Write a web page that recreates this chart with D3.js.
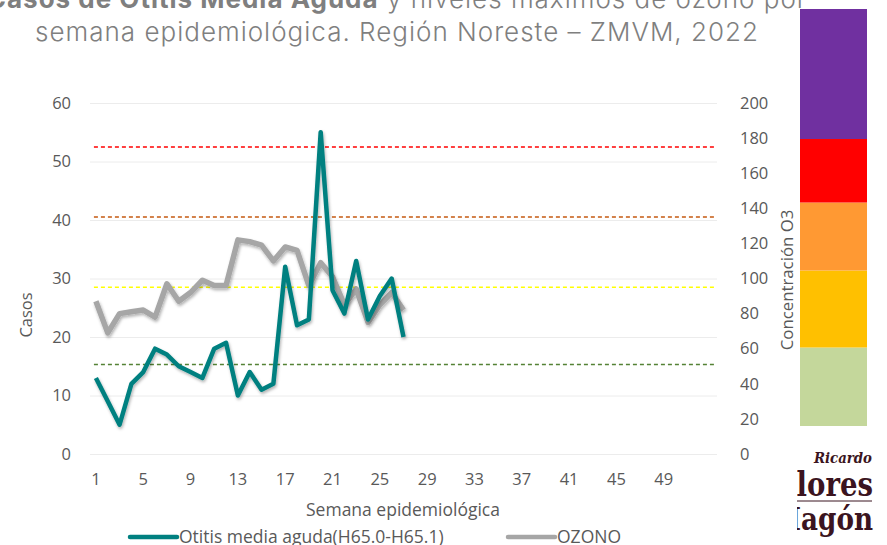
<!DOCTYPE html>
<html lang="es">
<head>
<meta charset="UTF-8">
<script src="https://d3js.org/d3.v7.min.js"></script>
<title>Otitis media aguda y ozono</title>
<style>
  body { margin: 0; background: #fff; }
  svg text { font-family: "Open Sans", sans-serif; fill: #595959; }
  .grid line { stroke: #ececec; }
  .grid .domain { stroke: none; }
</style>
</head>
<body>
<svg id="chart" width="887" height="545"></svg>
<script>
// semanas epidemiologicas (eje de categorias)
const semanas = d3.range(1, 54);
const semanaTicks = [1, 5, 9, 13, 17, 21, 25, 29, 33, 37, 41, 45, 49];

// casos de otitis media aguda, semanas 1-27
const otitis = [13, 9, 5, 12, 14, 18, 17, 15, 14, 13, 18, 19, 10, 14, 11, 12, 32, 22, 23, 55, 28, 24, 33, 23, 27, 30, 20];
// maximo de ozono (ppb), semanas 1-27
const ozono = [87, 69, 80, 81, 82, 78, 97, 87, 92, 99, 96, 96, 122, 121, 119, 110, 118, 116, 96, 109, 101, 85, 94, 75, 85, 92, 82];

const casosTicks = [0, 10, 20, 30, 40, 50, 60];
const o3Ticks = [0, 20, 40, 60, 80, 100, 120, 140, 160, 180, 200];

// limites de calidad del aire para ozono
const limites = [51, 95, 135, 175];
const limiteColores = ["#548235", "#FFFF00", "#C55A11", "#FF0000"];

// barra de colores (buena .. extremadamente mala)
const bandas = [0, 51, 95, 135, 175, 230];
const bandaColores = ["#C4D79B", "#FFC000", "#FF9933", "#FF0000", "#7030A0"];

const svg = d3.select("#chart");

const x = d3.scaleBand().domain(semanas).range([90, 717]);
const xc = d => x(d) + x.bandwidth() / 2;
const yL = d3.scaleLinear().domain([0, 60]).range([454, 103]);
const yR = d3.scaleLinear().domain([0, 200]).range([454, 103]);

// sombra suave de las lineas
const defs = svg.append("defs");
defs.append("filter").attr("id", "sombra")
  .attr("x", "-5%").attr("y", "-5%").attr("width", "110%").attr("height", "115%")
  .append("feDropShadow")
  .attr("dx", 1).attr("dy", 2).attr("stdDeviation", 1.5)
  .attr("flood-color", "#000").attr("flood-opacity", 0.3);
defs.append("clipPath").attr("id", "logoClip")
  .append("rect").attr("x", 797).attr("y", 440).attr("width", 90).attr("height", 105);

// titulo
const titulo = svg.append("text")
  .attr("x", 397).attr("y", 8)
  .attr("text-anchor", "middle")
  .style("font-family", "Inter, sans-serif")
  .style("font-size", "26px")
  .style("letter-spacing", "1px")
  .style("font-weight", 300)
  .style("fill", "#7f7f7f");
titulo.append("tspan").style("font-weight", 700).text("Casos de Otitis Media Aguda");
titulo.append("tspan").text(" y niveles máximos de ozono por");
svg.append("text")
  .attr("x", 397).attr("y", 41)
  .attr("text-anchor", "middle")
  .style("font-family", "Inter, sans-serif")
  .style("font-size", "26px")
  .style("letter-spacing", "1px")
  .style("font-weight", 300)
  .style("fill", "#7f7f7f")
  .text("semana epidemiológica. Región Noreste – ZMVM, 2022");

// rejilla
svg.append("g")
  .attr("class", "grid")
  .attr("transform", "translate(90,0)")
  .call(d3.axisLeft(yL).tickValues(casosTicks).tickSize(-627).tickFormat(""))
  .selectAll("line")
  .attr("stroke", d => d === 0 ? "#d9d9d9" : "#ececec");

// eje izquierdo
const ejeIzq = svg.append("g")
  .attr("transform", "translate(90,0)")
  .call(d3.axisLeft(yL).tickValues(casosTicks).tickSize(0).tickPadding(19));
ejeIzq.select(".domain").remove();
ejeIzq.selectAll("text").style("font-size", "16.5px").style("fill", "#595959");

// eje derecho
const ejeDer = svg.append("g")
  .attr("transform", "translate(717,0)")
  .call(d3.axisRight(yR).tickValues(o3Ticks).tickSize(0).tickPadding(23));
ejeDer.select(".domain").remove();
ejeDer.selectAll("text").style("font-size", "16.5px").style("fill", "#595959");

// eje inferior
const ejeX = svg.append("g")
  .attr("transform", "translate(0,454)")
  .call(d3.axisBottom(x).tickValues(semanaTicks).tickSize(0).tickPadding(19));
ejeX.select(".domain").remove();
ejeX.selectAll("text").style("font-size", "16.5px").style("fill", "#595959");

// titulos de ejes
svg.append("text")
  .attr("transform", "translate(32,315) rotate(-90)")
  .attr("text-anchor", "middle")
  .style("font-size", "16.5px")
  .text("Casos");
svg.append("text")
  .attr("transform", "translate(793,280) rotate(-90)")
  .attr("text-anchor", "middle")
  .style("font-size", "16.8px")
  .text("Concentración O3");
svg.append("text")
  .attr("x", 403).attr("y", 516)
  .attr("text-anchor", "middle")
  .style("font-size", "17.5px")
  .text("Semana epidemiológica");

// lineas de limite de ozono
svg.append("g").selectAll("line")
  .data(limites)
  .join("line")
  .attr("x1", xc(1) - 2).attr("x2", xc(53) + 3)
  .attr("y1", d => yR(d)).attr("y2", d => yR(d))
  .attr("stroke", (d, i) => limiteColores[i])
  .attr("stroke-width", 1.5)
  .attr("stroke-dasharray", "4,3");

// series
const lineaOzono = d3.line()
  .x((d, i) => xc(semanas[i]))
  .y(d => yR(d));
const lineaOtitis = d3.line()
  .x((d, i) => xc(semanas[i]))
  .y(d => yL(d));

svg.append("path")
  .datum(ozono)
  .attr("d", lineaOzono)
  .attr("fill", "none")
  .attr("stroke", "#a6a6a6")
  .attr("stroke-width", 5.5)
  .attr("stroke-linejoin", "round")
  .attr("filter", "url(#sombra)");

svg.append("path")
  .datum(otitis)
  .attr("d", lineaOtitis)
  .attr("fill", "none")
  .attr("stroke", "#008080")
  .attr("stroke-width", 4.5)
  .attr("stroke-linejoin", "round")
  .attr("filter", "url(#sombra)");

// leyenda
const leyenda = [
  { nombre: "Otitis media aguda(H65.0-H65.1)", color: "#008080", x: 130 },
  { nombre: "OZONO", color: "#a6a6a6", x: 508 }
];
const items = svg.append("g").selectAll("g")
  .data(leyenda)
  .join("g")
  .attr("transform", d => "translate(" + d.x + ",537)");
items.append("line")
  .attr("x1", 0).attr("x2", 47)
  .attr("stroke", d => d.color)
  .attr("stroke-width", 4.5)
  .attr("stroke-linecap", "round");
items.append("text")
  .attr("x", 49).attr("dy", "0.35em")
  .style("font-size", "17.5px")
  .text(d => d.nombre);

// barra de colores de calidad del aire
const yBarra = d3.scaleLinear().domain(bandas).range([426, 347.5, 270.5, 202.5, 139, 9]);
svg.append("g").selectAll("rect")
  .data(bandaColores)
  .join("rect")
  .attr("x", 800)
  .attr("width", 67)
  .attr("y", (d, i) => yBarra(bandas[i + 1]))
  .attr("height", (d, i) => yBarra(bandas[i]) - yBarra(bandas[i + 1]))
  .attr("fill", d => d);

// logo
const logo = svg.append("g").attr("clip-path", "url(#logoClip)");
logo.append("text")
  .attr("x", 814).attr("y", 463)
  .attr("textLength", 58).attr("lengthAdjust", "spacingAndGlyphs")
  .style("font-family", "DejaVu Serif, serif")
  .style("font-style", "italic").style("font-weight", 700)
  .style("font-size", "14px").style("fill", "#3b1420")
  .text("Ricardo");
logo.append("text")
  .attr("x", 777).attr("y", 496)
  .attr("textLength", 96).attr("lengthAdjust", "spacingAndGlyphs")
  .style("font-family", "DejaVu Serif, serif")
  .style("font-weight", 700)
  .style("font-size", "33px").style("fill", "#3b1420")
  .text("Flores");
logo.append("line")
  .attr("x1", 797).attr("x2", 872).attr("y1", 501).attr("y2", 501)
  .attr("stroke", "#3b1420").attr("stroke-width", 1);
logo.append("text")
  .attr("x", 772).attr("y", 530)
  .attr("textLength", 101).attr("lengthAdjust", "spacingAndGlyphs")
  .style("font-family", "DejaVu Serif, serif")
  .style("font-weight", 700)
  .style("font-size", "31px").style("fill", "#3b1420")
  .text("Magón");
</script>
</body>
</html>
